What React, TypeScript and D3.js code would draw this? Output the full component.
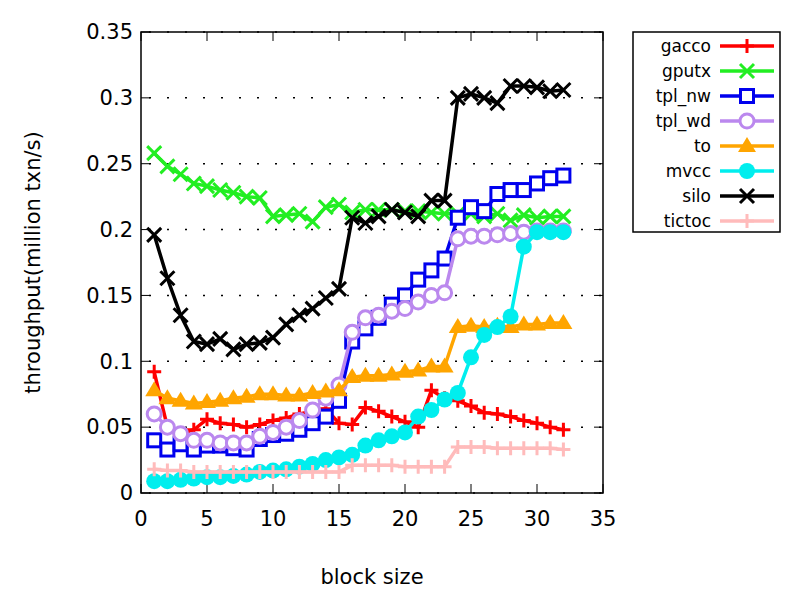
import React from 'react'
import * as d3 from 'd3'

const blockSizes = d3.range(1, 33)
const gacco = [0.092,0.05,0.045,0.048,0.056,0.053,0.052,0.05,0.052,0.055,0.057,0.06,0.062,0.064,0.053,0.052,0.065,0.062,0.058,0.054,0.05,0.078,0.072,0.07,0.066,0.061,0.06,0.058,0.055,0.053,0.05,0.048]
const gputx = [0.258,0.248,0.242,0.235,0.233,0.23,0.228,0.225,0.224,0.21,0.211,0.212,0.206,0.217,0.219,0.213,0.215,0.215,0.215,0.214,0.214,0.213,0.212,0.212,0.212,0.21,0.212,0.207,0.211,0.209,0.21,0.21]
const tplNw = [0.04,0.033,0.037,0.033,0.036,0.036,0.034,0.033,0.041,0.044,0.045,0.048,0.053,0.058,0.07,0.115,0.125,0.133,0.143,0.15,0.162,0.169,0.178,0.209,0.217,0.214,0.227,0.23,0.23,0.235,0.239,0.241]
const tplWd = [0.06,0.05,0.045,0.04,0.04,0.038,0.038,0.038,0.043,0.046,0.05,0.055,0.063,0.072,0.082,0.122,0.133,0.135,0.138,0.14,0.145,0.15,0.152,0.193,0.195,0.195,0.196,0.197,0.198,0.199,0.199,0.199]
const to = [0.078,0.072,0.07,0.068,0.069,0.07,0.072,0.073,0.075,0.075,0.074,0.074,0.076,0.077,0.078,0.088,0.089,0.089,0.09,0.092,0.093,0.096,0.096,0.126,0.127,0.126,0.127,0.126,0.128,0.128,0.129,0.129]
const mvcc = [0.009,0.009,0.01,0.011,0.012,0.012,0.013,0.014,0.016,0.017,0.018,0.02,0.022,0.025,0.027,0.029,0.036,0.04,0.043,0.046,0.058,0.063,0.071,0.076,0.103,0.12,0.126,0.134,0.187,0.198,0.198,0.198]
const silo = [0.196,0.163,0.135,0.115,0.113,0.117,0.109,0.113,0.114,0.118,0.128,0.135,0.14,0.148,0.155,0.209,0.205,0.21,0.215,0.213,0.21,0.222,0.222,0.3,0.303,0.3,0.296,0.309,0.309,0.308,0.305,0.306]
const tictoc = [0.018,0.017,0.017,0.016,0.016,0.016,0.016,0.016,0.016,0.016,0.016,0.016,0.016,0.016,0.016,0.021,0.021,0.021,0.021,0.02,0.02,0.02,0.02,0.035,0.035,0.035,0.034,0.034,0.034,0.034,0.034,0.033]

const xTicks = d3.range(0, 36, 5)
const yTicks = d3.range(0, 0.351, 0.05)

type Marker = 'plus' | 'cross' | 'square' | 'circle' | 'triangle' | 'dot'
const series: { name: string; values: number[]; color: string; marker: Marker }[] = [
  { name: 'gacco', values: gacco, color: '#ff0000', marker: 'plus' },
  { name: 'gputx', values: gputx, color: '#22ee22', marker: 'cross' },
  { name: 'tpl_nw', values: tplNw, color: '#0000ee', marker: 'square' },
  { name: 'tpl_wd', values: tplWd, color: '#bb88ee', marker: 'circle' },
  { name: 'to', values: to, color: '#ffa500', marker: 'triangle' },
  { name: 'mvcc', values: mvcc, color: '#00eeee', marker: 'dot' },
  { name: 'silo', values: silo, color: '#000000', marker: 'cross' },
  { name: 'tictoc', values: tictoc, color: '#ffbbbb', marker: 'plus' },
]

const left = 141, right = 603, top = 32, bottom = 493
const x = d3.scaleLinear().domain([0, 35]).range([left, right])
const y = d3.scaleLinear().domain([0, 0.35]).range([bottom, top])
const font = 'DejaVu Sans, Verdana, sans-serif'

function drawMarker(m: Marker, cx: number, cy: number, color: string, key: string | number) {
  const s = 7
  switch (m) {
    case 'plus':
      return <path key={key} d={`M${cx - s},${cy}H${cx + s}M${cx},${cy - s}V${cy + s}`} stroke={color} strokeWidth={3} fill="none" />
    case 'cross':
      return <path key={key} d={`M${cx - s},${cy - s}L${cx + s},${cy + s}M${cx - s},${cy + s}L${cx + s},${cy - s}`} stroke={color} strokeWidth={3} fill="none" />
    case 'square':
      return <rect key={key} x={cx - 6.5} y={cy - 6.5} width={13} height={13} stroke={color} strokeWidth={3} fill="white" />
    case 'circle':
      return <circle key={key} cx={cx} cy={cy} r={7} stroke={color} strokeWidth={3} fill="white" />
    case 'triangle':
      return <path key={key} d={`M${cx},${cy - 9}L${cx + 9},${cy + 6}L${cx - 9},${cy + 6}Z`} fill={color} />
    case 'dot':
      return <circle key={key} cx={cx} cy={cy} r={8} fill={color} />
  }
}

export default function App() {
  const line = d3.line<number>().x((_, i) => x(blockSizes[i])).y(d => y(d))
  return (
    <svg width={800} height={600} style={{ position: 'absolute', left: 0, top: 0, background: 'white' }} fontFamily={font}>
      {yTicks.map(t => (
        <g key={t}>
          <line x1={left} x2={right} y1={y(t)} y2={y(t)} stroke="#000" strokeWidth={1.5} strokeDasharray="2,16" strokeDashoffset={-8} />
          <line x1={left} x2={left + 9} y1={y(t)} y2={y(t)} stroke="#000" />
          <line x1={right - 9} x2={right} y1={y(t)} y2={y(t)} stroke="#000" />
          <text x={left - 8} y={y(t)} dy="0.35em" textAnchor="end" fontSize={21}>{t === 0 ? '0' : t.toFixed(2).replace(/0$/, '')}</text>
        </g>
      ))}
      {xTicks.map(t => (
        <g key={t}>
          <line x1={x(t)} x2={x(t)} y1={bottom} y2={bottom - 9} stroke="#000" />
          <line x1={x(t)} x2={x(t)} y1={top} y2={top + 9} stroke="#000" />
          <text x={x(t)} y={bottom + 33} textAnchor="middle" fontSize={21}>{t}</text>
        </g>
      ))}
      <rect x={left} y={top} width={right - left} height={bottom - top} fill="none" stroke="#000" strokeWidth={1.5} />
      {series.map(s => (
        <g key={s.name}>
          <path d={line(s.values) ?? ''} fill="none" stroke={s.color} strokeWidth={3.5} />
          {s.values.map((v, i) => drawMarker(s.marker, x(blockSizes[i]), y(v), s.color, i))}
        </g>
      ))}
      <text x={372} y={584} textAnchor="middle" fontSize={21}>block size</text>
      <text transform={`translate(40,${(top + bottom) / 2}) rotate(-90)`} textAnchor="middle" fontSize={21}>throughput(million txn/s)</text>
      <rect x={633} y={32} width={147} height={200} fill="white" stroke="#000" strokeWidth={1.5} />
      {series.map((s, i) => {
        const ly = 46 + i * 25
        return (
          <g key={s.name}>
            <text x={711} y={ly} dy="0.35em" textAnchor="end" fontSize={17}>{s.name}</text>
            <line x1={720} x2={774} y1={ly} y2={ly} stroke={s.color} strokeWidth={3.5} />
            {drawMarker(s.marker, 747, ly, s.color, 'm')}
          </g>
        )
      })}
    </svg>
  )
}
